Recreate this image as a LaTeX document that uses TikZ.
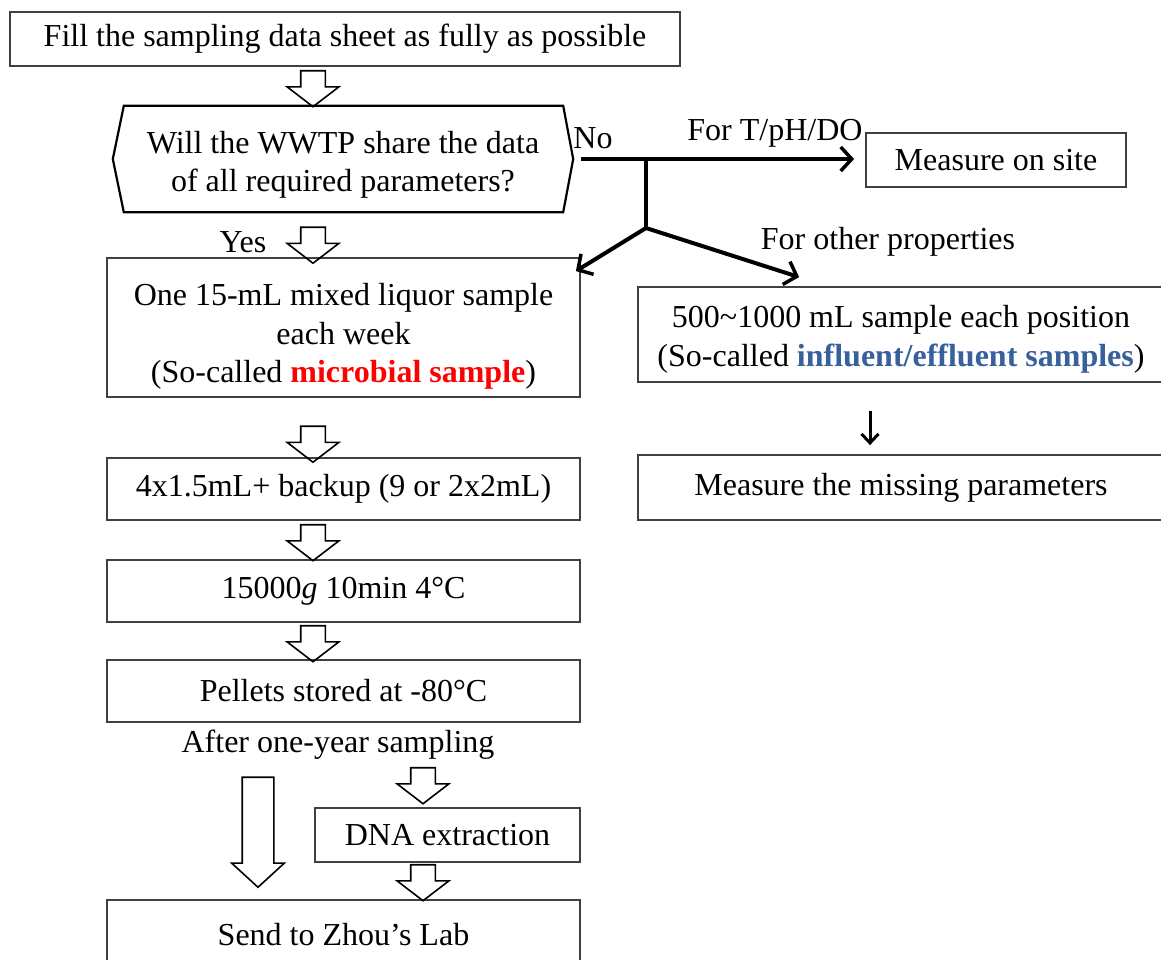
\documentclass[tikz,border=0pt]{standalone}
\usepackage{fontspec}
\setmainfont{Liberation Serif}
\usetikzlibrary{shapes, arrows.meta, calc, positioning, shapes.arrows}
\definecolor{boxgrey}{rgb}{0.25, 0.25, 0.25}
\definecolor{infblue}{rgb}{0.216, 0.376, 0.612}

\begin{document}
\begin{tikzpicture}[x=1pt, y=-1pt,
    every node/.style={font=\fontsize{32}{38.5}\selectfont, align=center, inner sep=0pt},
    stepbox/.style={draw=boxgrey, line width=1.8pt},
    hollow/.style={single arrow, draw=black, line width=1.6pt, shape border rotate=270,
        minimum width=50pt, minimum height=36pt, single arrow head extend=13.5pt,
        single arrow tip angle=105, inner sep=11.5pt},
    thinarrow/.style={-{Straight Barb[length=11pt, width=24pt, line width=3.5pt]}, line width=4pt}]
    \useasboundingbox (0,0) rectangle (1161,959);
    \clip (0,0) rectangle (1161,959);
        % left column
        \node[stepbox, minimum width=670, minimum height=54] (fill) at (345,39) {Fill the sampling data sheet as fully as possible};
        \node[minimum width=460, minimum height=106] (share) at (343,159) {};
        \node (sharetext) at ([yshift=-6pt]share.center) {Will the WWTP share the data\\of all required parameters?};
        \draw[line width=2.2pt] ([xshift=11pt]share.north west) -- ([xshift=-10pt]share.north east) -- (share.east)
            -- ([xshift=-10pt]share.south east) -- ([xshift=11pt]share.south west) -- (share.west) -- cycle;
        \node[stepbox, minimum width=473, minimum height=139] (micro) at (343.5,327.5) {};
        \node (microtext) at ([yshift=-9pt]micro.center) {One 15-mL mixed liquor sample\\each week\\(So-called \textbf{\color{red}microbial sample})};
        \node[stepbox, minimum width=473, minimum height=62] (backup) at (343.5,489) {4x1.5mL+ backup (9 or 2x2mL)};
        \node[stepbox, minimum width=473, minimum height=62] (spin) at (343.5,591) {15000\textit{g} 10min 4°C};
        \node[stepbox, minimum width=473, minimum height=62] (pellets) at (343.5,691) {Pellets stored at -80°C};
        \node (after) at (338,745) {After one-year sampling};
        \node[stepbox, minimum width=265, minimum height=54] (dna) at (447.5,835) {DNA extraction};
        \node[stepbox, minimum width=473, minimum height=70] (zhou) at (343.5,935) {Send to Zhou’s Lab};
        % hollow arrows
        \node[hollow] (h1) at (313,84) {};
        \node[hollow] (h2) at (313,240.5) {};
        \node (yes) at (243,242) {Yes};
        \node[hollow] (h3) at (313,439.5) {};
        \node[hollow] (h4) at (313,538) {};
        \node[hollow] (h5) at (313,639) {};
        \node[hollow] (h6) at (423,781) {};
        \node[hollow] (h7) at (423,878) {};
        \node[hollow, minimum width=51pt, minimum height=110pt, inner sep=15pt, single arrow head extend=10.5pt, single arrow tip angle=95] (hbig) at (258,825) {};
        % right branch
        \node (no) at (593,138) {No};
        \node[stepbox, minimum width=260, minimum height=54] (site) at (996,160) {Measure on site};
        \node (tph) at (775,133) {For T/pH/DO};
        \node (other) at (888,242) {For other properties};
        \node[stepbox, minimum width=526, minimum height=95] (infl) at (901,334.5) {};
        \node (infltext) at ([yshift=-5pt]infl.center) {500\textasciitilde1000 mL sample each position\\(So-called \textbf{\color{infblue}influent/effluent samples})};
        \node[stepbox, minimum width=526, minimum height=65] (missing) at (901,487.5) {Measure the missing parameters};
        \coordinate (nostart) at ([xshift=8pt]share.east);
        \coordinate (split) at (646,158);
        \coordinate (fork) at (646,228);
        \draw[thinarrow] (nostart) -- ([xshift=-11pt]site.west |- nostart);
        \draw[line width=4pt] (split) -- (fork);
        \draw[thinarrow] (fork) -- ([xshift=-5pt, yshift=-14pt]micro.north east);
        \draw[thinarrow] (fork) -- ([xshift=162pt, yshift=9pt]infl.north west);
        \draw[-{Straight Barb[length=9pt, width=17pt, line width=3pt]}, line width=3pt] ([xshift=-31pt, yshift=-28pt]infl.south) -- ([xshift=-31pt, yshift=9pt]missing.north);
\end{tikzpicture}
\end{document}
